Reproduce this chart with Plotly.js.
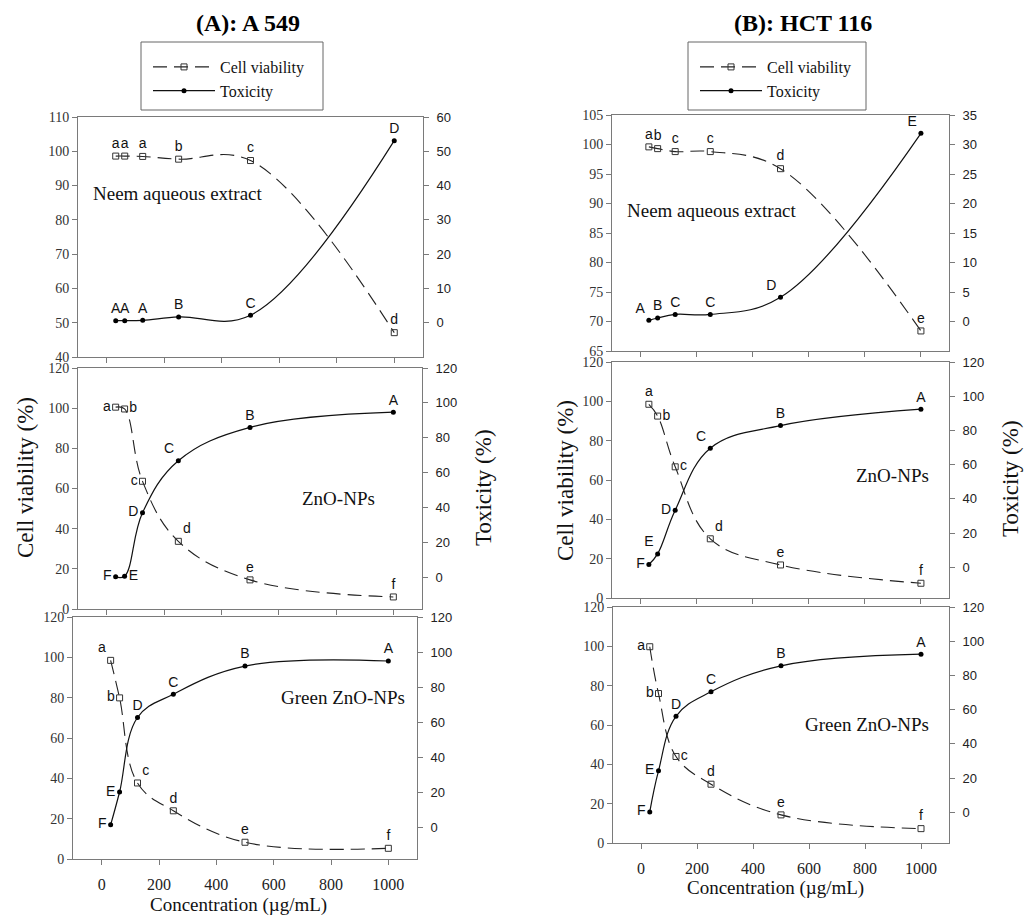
<!DOCTYPE html>
<html>
<head>
<meta charset="utf-8">
<script src="https://cdn.plot.ly/plotly-3.0.1.min.js"></script>
<style>html,body{margin:0;padding:0;background:#fff;}#chart{width:1034px;height:916px;}</style>
</head>
<body>
<div id="chart"></div>
<script>
// ---- Data ----
const conc = [31.25, 62.5, 125, 250, 500, 1000];
const xTicks = [0, 200, 400, 600, 800, 1000];

// (A) A 549
const a549NeemViability = [98.6, 98.6, 98.5, 97.7, 97.3, 47.1];
const a549NeemToxicity  = [0.6, 0.6, 0.7, 1.7, 2.2, 53.1];
const a549ZnoViability  = [100.5, 99.6, 63.6, 33.7, 14.5, 6.0];
const a549ZnoToxicity   = [0.4, 0.8, 37.1, 66.9, 86.0, 94.7];
const a549GreenViability = [98.5, 79.9, 37.7, 23.9, 8.3, 5.3];
const a549GreenToxicity  = [1.5, 20.2, 62.7, 76.0, 92.0, 94.9];

// (B) HCT 116
const hctNeemViability = [99.6, 99.3, 98.8, 98.8, 95.9, 68.4];
const hctNeemToxicity  = [0.2, 0.6, 1.2, 1.2, 4.1, 31.9];
const hctZnoViability  = [98.5, 92.5, 66.7, 30.1, 16.8, 7.5];
const hctZnoToxicity   = [1.6, 7.8, 33.3, 69.6, 82.8, 92.4];
const hctGreenViability = [99.8, 76.0, 44.0, 29.9, 14.3, 7.3];
const hctGreenToxicity  = [0.2, 24.2, 56.1, 70.4, 85.6, 92.4];

// significance letters
const a549NeemViabLabels = ['a', 'a', 'a', 'b', 'c', 'd'];
const a549NeemToxLabels  = ['A', 'A', 'A', 'B', 'C', 'D'];
const a549ZnoViabLabels  = ['a', 'b', 'c', 'd', 'e', 'f'];
const a549ZnoToxLabels   = ['F', 'E', 'D', 'C', 'B', 'A'];
const a549GreenViabLabels = ['a', 'b', 'c', 'd', 'e', 'f'];
const a549GreenToxLabels  = ['F', 'E', 'D', 'C', 'B', 'A'];
const hctNeemViabLabels = ['a', 'b', 'c', 'c', 'd', 'e'];
const hctNeemToxLabels  = ['A', 'B', 'C', 'C', 'D', 'E'];
const hctZnoViabLabels  = ['a', 'b', 'c', 'd', 'e', 'f'];
const hctZnoToxLabels   = ['F', 'E', 'D', 'C', 'B', 'A'];
const hctGreenViabLabels = ['a', 'b', 'c', 'd', 'e', 'f'];
const hctGreenToxLabels  = ['F', 'E', 'D', 'C', 'B', 'A'];

const panelNotes = ['Neem aqueous extract', 'ZnO-NPs', 'Green ZnO-NPs'];
const columnTitles = ['(A): A 549', '(B): HCT 116'];
const seriesNames = ['Cell viability', 'Toxicity'];

// ---- Layout helpers ----
const W = 1034, H = 916;
const fx = p => p / W;
const fy = p => 1 - p / H;
const SERIF = 'Liberation Serif, Times New Roman, serif';
const SANS = 'Liberation Sans, Arial, sans-serif';
const AX = '#7a7a7a';
const tc = 'top center', tl = 'top left', tr = 'top right', ml = 'middle left', mr = 'middle right';

const range = (a, b, s) => { const r = []; for (let v = a; v <= b + 1e-9; v += s) r.push(v); return r; };

const panels = [
  { col: 0, xd: [78, 423], yd: [117, 357], yl: [40, 110], ylt: range(40, 110, 10), yr: [-10, 60], yrt: range(0, 60, 10),
    v: a549NeemViability, t: a549NeemToxicity, vl: a549NeemViabLabels, tl: a549NeemToxLabels,
    vp: [tc, tc, tc, tc, tc, tc], tp: [tc, tc, tc, tc, tc, tc],
    note: panelNotes[0], notePos: [91, 193], noteAnchor: 'left', bottom: false },
  { col: 0, xd: [78, 422], yd: [368, 609], yl: [0, 120], ylt: range(0, 120, 20), yr: [-18, 120], yrt: range(0, 120, 20),
    v: a549ZnoViability, t: a549ZnoToxicity, vl: a549ZnoViabLabels, tl: a549ZnoToxLabels,
    vp: [ml, mr, ml, tr, tc, tc], tp: [ml, mr, ml, tl, tc, tc],
    note: panelNotes[1], notePos: [338, 499], noteAnchor: 'center', bottom: false },
  { col: 0, xd: [73, 417], yd: [617, 859], yl: [0, 120], ylt: range(0, 120, 20), yr: [-18, 120], yrt: range(0, 120, 20),
    v: a549GreenViability, t: a549GreenToxicity, vl: a549GreenViabLabels, tl: a549GreenToxLabels,
    vp: [tl, ml, tr, tc, tc, tc], tp: [ml, ml, tc, tc, tc, tc],
    note: panelNotes[2], notePos: [343, 697], noteAnchor: 'center', bottom: true },
  { col: 1, xd: [612, 949], yd: [115, 351], yl: [65, 105], ylt: range(65, 105, 5), yr: [-5, 35], yrt: range(0, 35, 5),
    v: hctNeemViability, t: hctNeemToxicity, vl: hctNeemViabLabels, tl: hctNeemToxLabels,
    vp: [tc, tc, tc, tc, tc, tc], tp: [tl, tc, tc, tc, tl, tl],
    note: panelNotes[0], notePos: [625, 210], noteAnchor: 'left', bottom: false },
  { col: 1, xd: [612, 949], yd: [362, 598], yl: [0, 120], ylt: range(0, 120, 20), yr: [-18, 120], yrt: range(0, 120, 20),
    v: hctZnoViability, t: hctZnoToxicity, vl: hctZnoViabLabels, tl: hctZnoToxLabels,
    vp: [tc, mr, mr, tr, tc, tc], tp: [ml, tl, ml, tl, tc, tc],
    note: panelNotes[1], notePos: [892, 475], noteAnchor: 'center', bottom: false },
  { col: 1, xd: [613, 949], yd: [607, 843], yl: [0, 120], ylt: range(0, 120, 20), yr: [-18, 120], yrt: range(0, 120, 20),
    v: hctGreenViability, t: hctGreenToxicity, vl: hctGreenViabLabels, tl: hctGreenToxLabels,
    vp: [ml, ml, mr, tc, tc, tc], tp: [ml, ml, tc, tc, tc, tc],
    note: panelNotes[2], notePos: [867, 724], noteAnchor: 'center', bottom: true }
];

const traces = [];
const legendStyle = { xanchor: 'left', yanchor: 'top', bgcolor: 'rgba(0,0,0,0)', borderwidth: 0,
  font: { family: SERIF, size: 16, color: '#111' }, traceorder: 'normal', tracegroupgap: 0, itemwidth: 62 };
const layout = {
  width: W, height: H,
  margin: { l: 0, r: 0, t: 0, b: 0 },
  paper_bgcolor: '#fff', plot_bgcolor: 'rgba(0,0,0,0)',
  showlegend: true,
  legend: Object.assign({ x: fx(148), y: fy(50) }, legendStyle),
  legend2: Object.assign({ x: fx(695), y: fy(50) }, legendStyle),
  annotations: [], shapes: []
};

panels.forEach((p, i) => {
  const n = i + 1;
  const xk = n === 1 ? 'x' : 'x' + n;
  const yLn = 2 * n - 1, yRn = 2 * n;
  const yLk = yLn === 1 ? 'y' : 'y' + yLn;
  const yRk = 'y' + yRn;
  const xName = 'xaxis' + (n === 1 ? '' : n);
  const yLName = 'yaxis' + (yLn === 1 ? '' : yLn);
  const yRName = 'yaxis' + yRn;

  layout[xName] = {
    domain: [fx(p.xd[0]), fx(p.xd[1])], range: [-100, 1100], anchor: yLk,
    tickmode: 'array', tickvals: xTicks, ticktext: xTicks.map(String), showticklabels: p.bottom,
    ticks: 'outside', ticklen: 5, tickcolor: AX, tickwidth: 1,
    showline: true, linecolor: AX, linewidth: 1, mirror: true,
    showgrid: false, zeroline: false, ticklabelstandoff: 6,
    tickfont: { family: SERIF, size: 16, color: '#222' }
  };
  layout[yLName] = {
    domain: [fy(p.yd[1]), fy(p.yd[0])], range: p.yl, anchor: xk,
    tickmode: 'array', tickvals: p.ylt, ticks: 'outside', ticklen: 5, tickcolor: AX, tickwidth: 1,
    showline: true, linecolor: AX, linewidth: 1, showgrid: false, zeroline: false,
    tickfont: { family: SERIF, size: 14, color: '#333' }
  };
  layout[yRName] = {
    overlaying: yLk, side: 'right', range: p.yr, anchor: xk,
    tickmode: 'array', tickvals: p.yrt, ticks: 'outside', ticklen: 5, tickcolor: AX, tickwidth: 1,
    showline: true, linecolor: AX, linewidth: 1, showgrid: false, zeroline: false,
    ticklabelstandoff: 5,
    tickfont: { family: SANS, size: 13, color: '#222' }
  };

  const legendKey = p.col === 0 ? 'legend' : 'legend2';
  const first = (i === 0 || i === 3);
  traces.push({
    type: 'scatter', mode: 'lines+markers+text', x: conc, y: p.v, xaxis: xk, yaxis: yLk,
    name: seriesNames[0], legend: legendKey, showlegend: first,
    line: { color: '#222', width: 1.1, dash: '14px,7px', shape: 'spline', smoothing: 1.1 },
    marker: { symbol: 'square-open', size: 6, color: '#333', line: { width: 1, color: '#333' } },
    text: p.vl, textposition: p.vp, textfont: { family: SANS, size: 14, color: '#111' },
    cliponaxis: false, hoverinfo: 'x+y'
  });
  traces.push({
    type: 'scatter', mode: 'lines+markers+text', x: conc, y: p.t, xaxis: xk, yaxis: yRk,
    name: seriesNames[1], legend: legendKey, showlegend: first,
    line: { color: '#111', width: 1.2, shape: 'spline', smoothing: 1.1 },
    marker: { symbol: 'circle', size: 5, color: '#000' },
    text: p.tl, textposition: p.tp, textfont: { family: SANS, size: 14, color: '#111' },
    cliponaxis: false, hoverinfo: 'x+y'
  });

  layout.annotations.push({
    xref: 'paper', yref: 'paper', x: fx(p.notePos[0]), y: fy(p.notePos[1]),
    xanchor: p.noteAnchor, yanchor: 'middle', showarrow: false, text: p.note,
    font: { family: SERIF, size: 19, color: '#111' }
  });
});

// column titles
[[248, 23], [803, 23]].forEach((pos, c) => {
  layout.annotations.push({ xref: 'paper', yref: 'paper', x: fx(pos[0]), y: fy(pos[1]), xanchor: 'center', yanchor: 'middle',
    showarrow: false, text: '<b>' + columnTitles[c] + '</b>', font: { family: SERIF, size: 24, color: '#000' } });
});
// axis titles
const yTitles = [
  ['Cell viability (%)', 25, 478], ['Toxicity (%)', 483, 488],
  ['Cell viability (%)', 565, 481], ['Toxicity (%)', 1010, 479]
];
yTitles.forEach(t => layout.annotations.push({ xref: 'paper', yref: 'paper', x: fx(t[1]), y: fy(t[2]),
  xanchor: 'center', yanchor: 'middle', textangle: -90, showarrow: false, text: t[0],
  font: { family: SERIF, size: 23, color: '#111' } }));
[[238, 905], [775, 888]].forEach(pos => layout.annotations.push({ xref: 'paper', yref: 'paper', x: fx(pos[0]), y: fy(pos[1]),
  xanchor: 'center', yanchor: 'middle', showarrow: false, text: 'Concentration (µg/mL)',
  font: { family: SERIF, size: 19, color: '#111' } }));

// legend boxes
[[141, 323], [688, 866]].forEach(b => layout.shapes.push({ type: 'rect', xref: 'paper', yref: 'paper',
  x0: fx(b[0]), x1: fx(b[1]), y0: fy(110), y1: fy(42), line: { color: '#666', width: 1 }, fillcolor: 'rgba(0,0,0,0)' }));

Plotly.newPlot('chart', traces, layout, { staticPlot: true, displayModeBar: false });
</script>
</body>
</html>
